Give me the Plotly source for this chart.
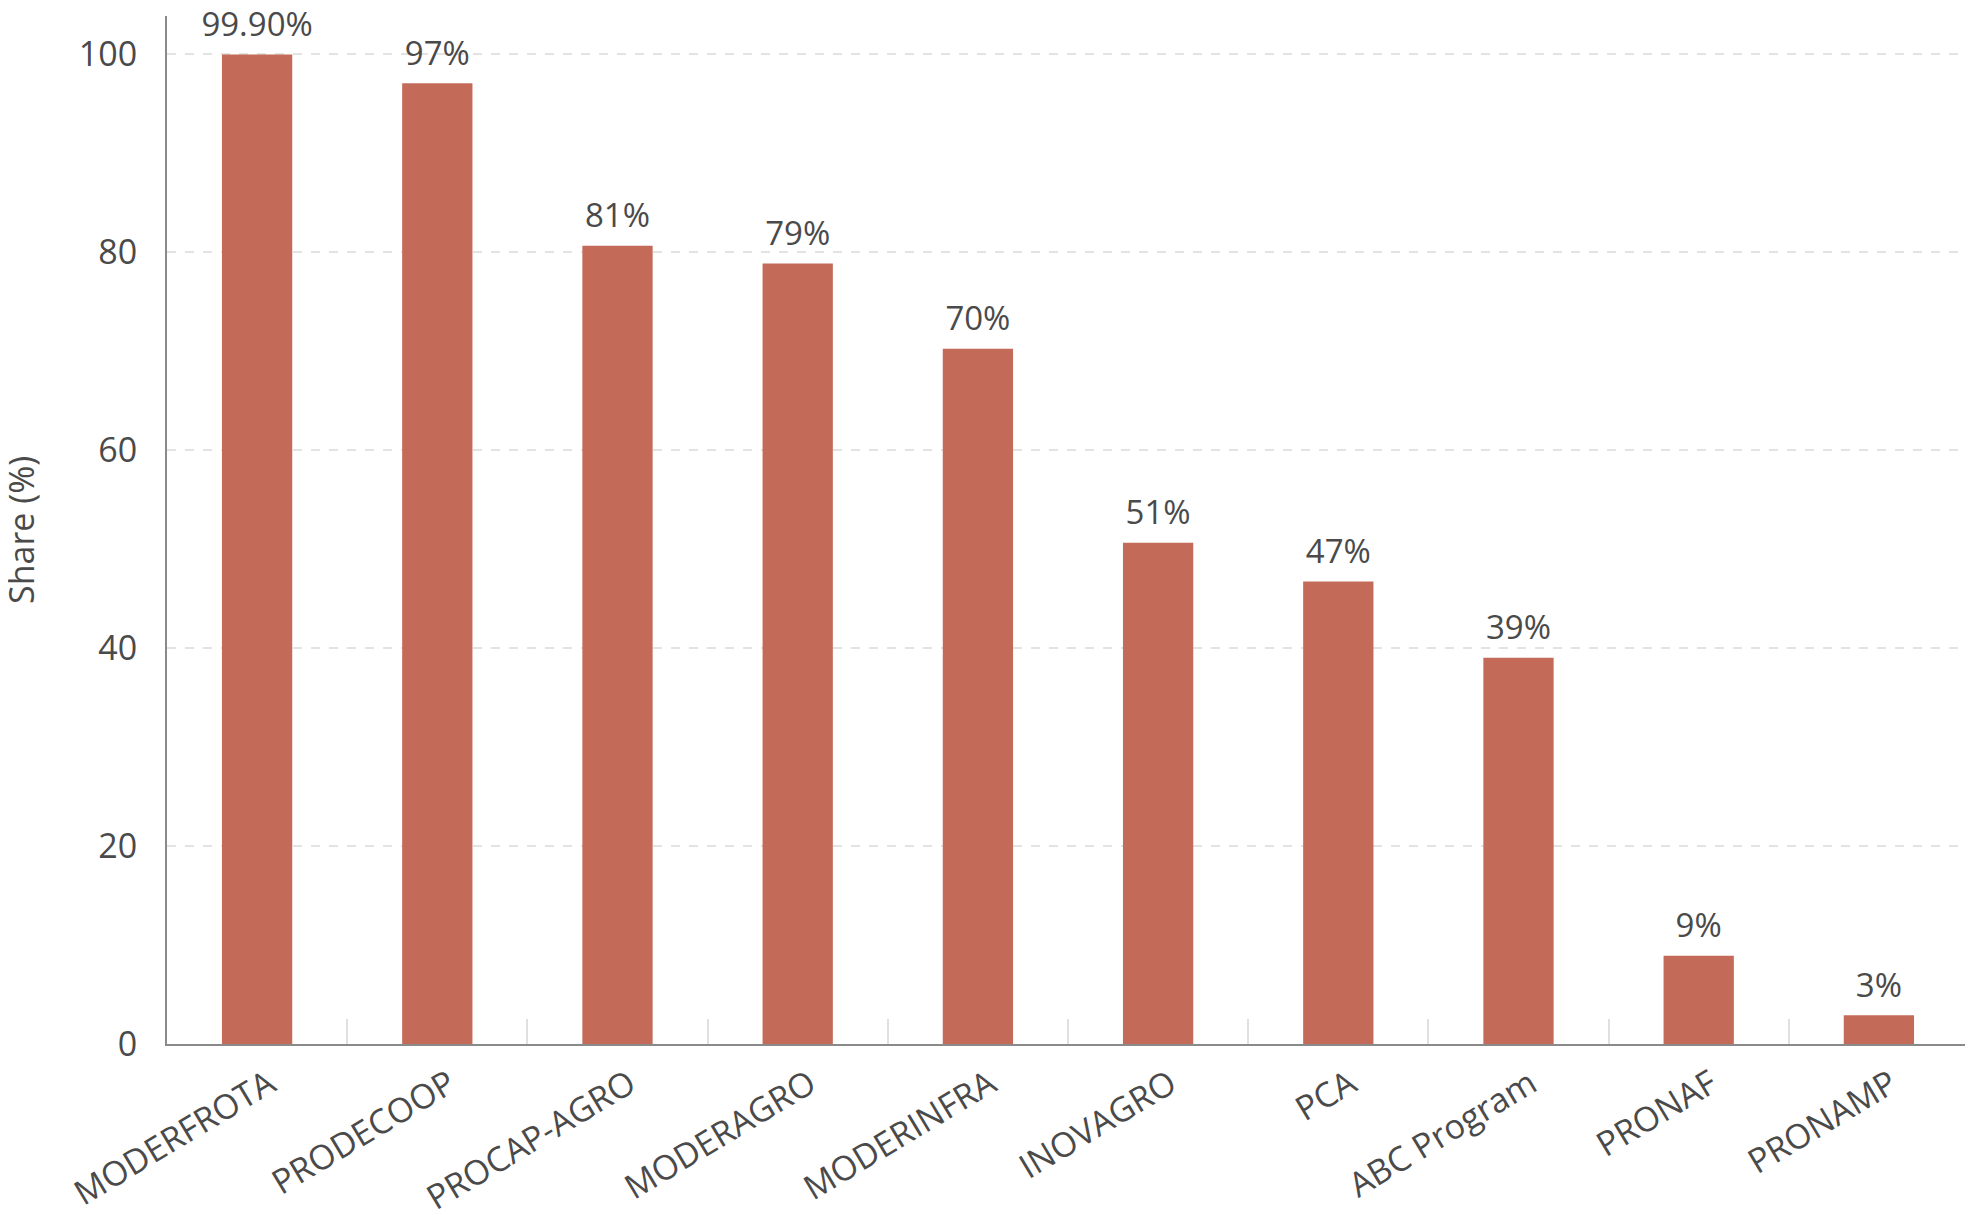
import plotly.graph_objects as go

categories = ["MODERFROTA", "PRODECOOP", "PROCAP-AGRO", "MODERAGRO", "MODERINFRA",
              "INOVAGRO", "PCA", "ABC Program", "PRONAF", "PRONAMP"]
shares = [99.9, 97.0, 80.6, 78.8, 70.2, 50.6, 46.7, 39.0, 8.9, 2.9]
bar_labels = ["99.90%", "97%", "81%", "79%", "70%", "51%", "47%", "39%", "9%", "3%"]
y_ticks = [0, 20, 40, 60, 80, 100]

FONT = "Open Sans"
TXT = "#4a4a4a"

fig = go.Figure()
fig.add_trace(
    go.Bar(
        x=categories,
        y=shares,
        marker=dict(color="#C36A59", line=dict(width=0)),
        width=0.39,
        hoverinfo="x+y",
    )
)
fig.add_trace(
    go.Scatter(
        x=categories,
        y=shares,
        mode="markers+text",
        marker=dict(size=15, color="rgba(0,0,0,0)"),
        text=bar_labels,
        textposition="top center",
        textfont=dict(family=FONT, size=33, color=TXT),
        cliponaxis=False,
        hoverinfo="skip",
    )
)

fig.update_layout(
    width=1965,
    height=1215,
    paper_bgcolor="white",
    plot_bgcolor="white",
    margin=dict(l=159, r=4, t=8, b=179),
    showlegend=False,
    font=dict(family=FONT, color=TXT),
    annotations=[
        dict(
            text="Share (%)",
            xref="paper", yref="paper",
            x=0, y=0.5,
            xanchor="center", yanchor="middle",
            xshift=-146,
            textangle=-90,
            showarrow=False,
            font=dict(family=FONT, size=34, color=TXT),
        )
    ],
)

fig.update_xaxes(
    type="category",
    range=[-0.5, len(categories) - 0.5],
    automargin=False,
    tickangle=-31,
    tickfont=dict(family=FONT, size=34, color=TXT),
    ticklabelshift=12,
    ticklabelstandoff=5,
    showline=True,
    linecolor="#8a8a8a",
    linewidth=2,
    ticks="inside",
    tickson="boundaries",
    ticklen=25,
    tickcolor="#e0e0e0",
    tickwidth=1.5,
    showgrid=False,
)

fig.update_yaxes(
    automargin=False,
    range=[0, 103.8],
    tickvals=y_ticks,
    tickfont=dict(family=FONT, size=34, color=TXT),
    showline=True,
    linecolor="#8a8a8a",
    linewidth=2,
    showgrid=True,
    gridcolor="#e3e3e3",
    griddash="dash",
    gridwidth=1.5,
    zeroline=False,
    ticks="",
    ticklabelstandoff=21,
)

fig.write_html("out.html")
